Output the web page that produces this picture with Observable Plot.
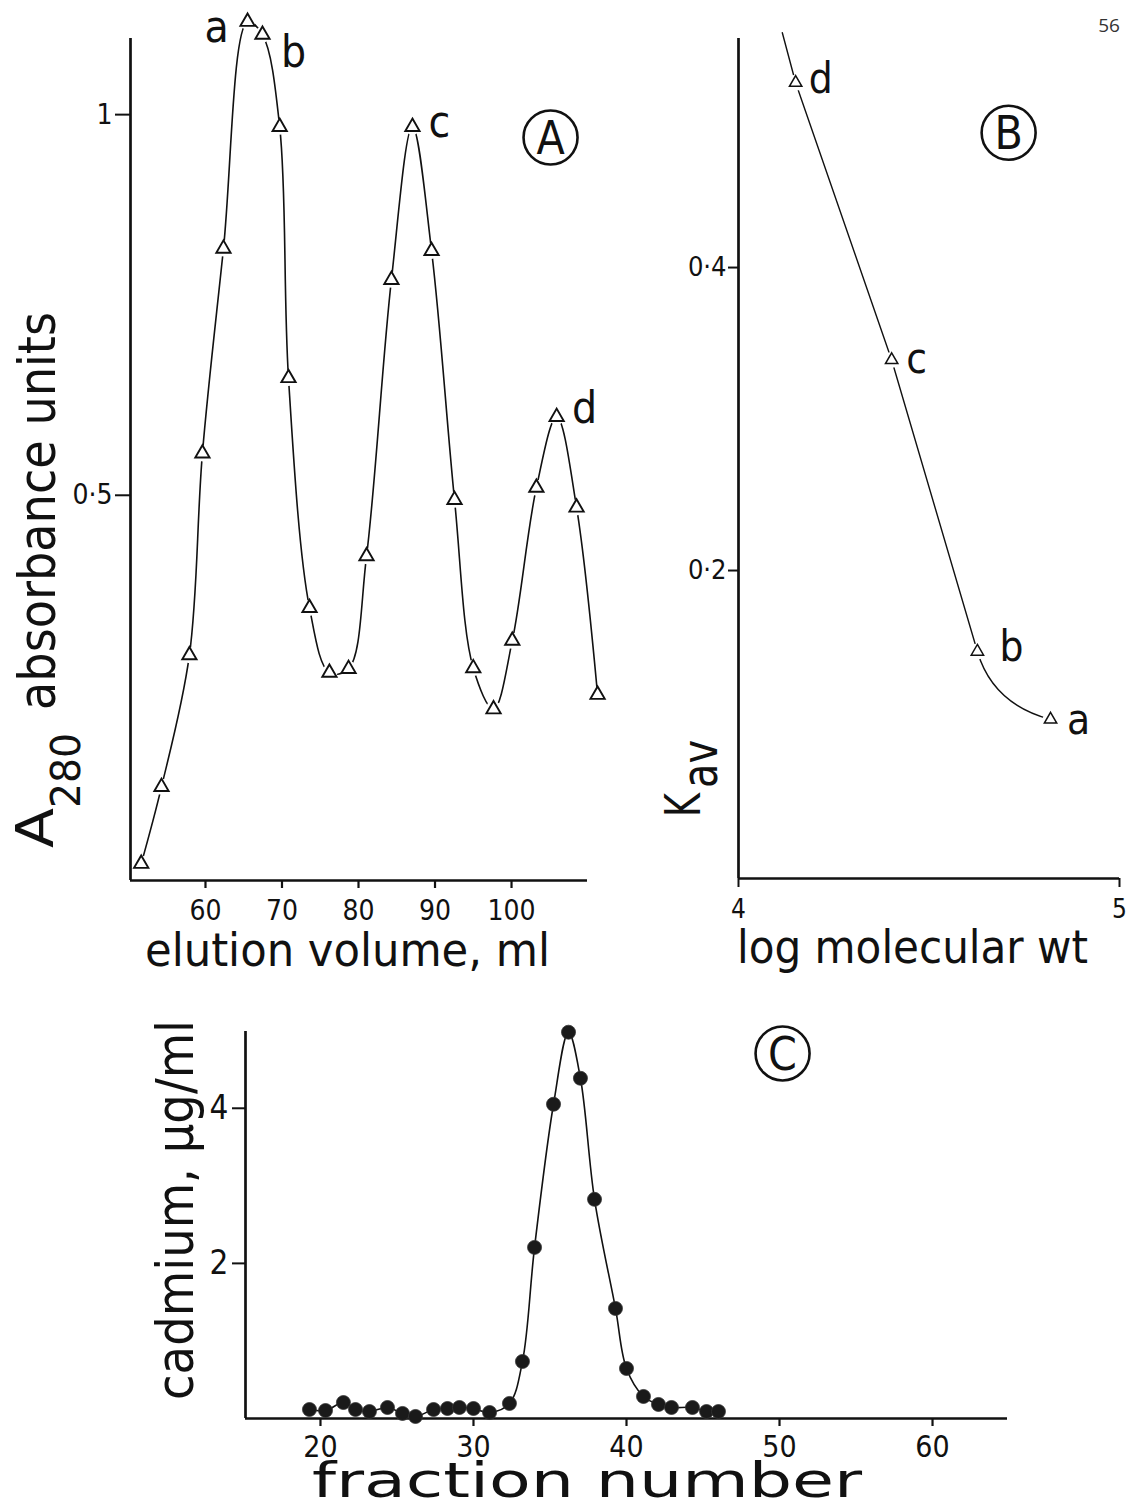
<!DOCTYPE html>
<html>
<head>
<meta charset="utf-8">
<script src="https://cdn.jsdelivr.net/npm/d3@7"></script>
<script src="https://cdn.jsdelivr.net/npm/@observablehq/plot@0.6"></script>
<style>
  body { margin: 0; background: #fff; }
  #page { position: relative; width: 1130px; height: 1507px; overflow: hidden; background: #fff; }
  #page svg { position: absolute; overflow: visible; }
</style>
</head>
<body>
<div id="page"></div>
<script>
// ---------------- Panel A : gel-filtration elution profile ----------------
const elutionVolume = [51.6, 54.25, 57.9, 59.6, 62.35, 65.5, 67.45, 69.7, 70.85, 73.6, 76.2, 78.7,
                       81.05, 84.3, 87.05, 89.55, 92.55, 95.0, 97.65, 100.1, 103.25, 105.9, 108.5, 111.25];
const absorbance280 = [0.016, 0.117, 0.290, 0.555, 0.824, 1.122, 1.105, 0.984, 0.654, 0.352, 0.267, 0.272,
                       0.420, 0.783, 0.984, 0.821, 0.494, 0.273, 0.219, 0.309, 0.510, 0.603, 0.484, 0.238];
const peakLetters = ["a", "b", "c", "d"];
const peakIndex = [5, 6, 14, 21];
const aXDomain = [50.2, 109.93];
const aYDomain = [-0.006, 1.1];
const aXTicks = [60, 70, 80, 90, 100];
const aYTicks = [0.5, 1];

// ---------------- Panel B : calibration, Kav vs log MW ----------------
const standardLetters = ["d", "c", "b", "a"];
const logMolWt = [4.150, 4.402, 4.627, 4.819];
const kav = [0.522, 0.339, 0.1465, 0.1017];
const curveLogMolWt = [4.115, 4.150, 4.402, 4.627, 4.819];
const curveKav = [0.555, 0.522, 0.339, 0.1465, 0.1017];
const bXDomain = [4, 5];
const bYDomain = [-0.0033, 0.5512];
const bXTicks = [4, 5];
const bYTicks = [0.2, 0.4];

// ---------------- Panel C : cadmium profile ----------------
const fractionNumber = [19.28, 20.33, 21.5, 22.29, 23.2, 24.38, 25.36, 26.21, 27.39, 28.3, 29.08, 30.0, 31.05,
                        32.35, 33.2, 33.99, 35.23, 36.21, 36.99, 37.91, 39.28, 40.0, 41.11, 42.09, 42.94,
                        44.31, 45.23, 46.01];
const cadmium = [0.116, 0.103, 0.206, 0.116, 0.09, 0.142, 0.065, 0.026, 0.116, 0.129, 0.142, 0.129, 0.077,
                 0.194, 0.735, 2.206, 4.052, 4.981, 4.387, 2.826, 1.419, 0.645, 0.284, 0.181, 0.142,
                 0.142, 0.09, 0.09];
const cXDomain = [15.1, 64.9];
const cYDomain = [0, 4.99];
const cXTicks = [20, 30, 40, 50, 60];
const cYTicks = [2, 4];

// panel identification letters (data coordinates of each panel)
const panelLetters = ["A", "B", "C"];
const panelLetterX = [105.1, 4.709, 50.2];
const panelLetterY = [0.970, 0.489, 4.707];

// ---------------- build tables ----------------
const dataA = elutionVolume.map((v, i) => ({v, a: absorbance280[i]}));
const labelsA = peakLetters.map((t, k) => ({t, v: elutionVolume[peakIndex[k]], a: absorbance280[peakIndex[k]]}));
const dataB = logMolWt.map((m, i) => ({m, k: kav[i], t: standardLetters[i]}));
const curveB = curveLogMolWt.map((m, i) => ({m, k: curveKav[i]}));
const dataC = fractionNumber.map((f, i) => ({f, c: cadmium[i]}));

const FONT = "'DejaVu Sans Condensed', 'DejaVu Sans', sans-serif";
const INK = "#111";
const dot = s => String(s).replace(".", "·");
const page = document.getElementById("page");

// straight segments, with the last segment bending smoothly into the final point
function curveStraightThenBend(context) {
  let pts = [];
  return {
    areaStart() {}, areaEnd() {},
    lineStart() { pts = []; },
    point(x, y) { pts.push([+x, +y]); },
    lineEnd() {
      const n = pts.length;
      if (!n) return;
      context.moveTo(pts[0][0], pts[0][1]);
      for (let i = 1; i < n - 1; i++) context.lineTo(pts[i][0], pts[i][1]);
      if (n >= 3) {
        const p0 = pts[n - 3], p1 = pts[n - 2], p2 = pts[n - 1];
        const dx = p1[0] - p0[0], dy = p1[1] - p0[1], L = Math.hypot(dx, dy) || 1;
        const d = 0.55 * Math.hypot(p2[0] - p1[0], p2[1] - p1[1]);
        context.quadraticCurveTo(p1[0] + dx / L * d, p1[1] + dy / L * d, p2[0], p2[1]);
      } else if (n === 2) context.lineTo(pts[1][0], pts[1][1]);
    }
  };
}

function addText(svg, {x, y, text, size, length, rotate = false, anchor = "start", adjust = "spacingAndGlyphs"}) {
  const t = d3.select(svg).append("text")
    .attr("font-size", size)
    .attr("fill", INK)
    .attr("text-anchor", anchor)
    .text(text);
  if (rotate) t.attr("transform", `translate(${x},${y}) rotate(-90)`);
  else t.attr("x", x).attr("y", y);
  if (length) t.attr("textLength", length).attr("lengthAdjust", adjust);
  return t;
}

// ---------------- Plot A ----------------
const offsA = [[-31, 6], [31, 18], [27, -4], [28, -8]];
const plotA = Plot.plot({
  width: 640, height: 1000,
  marginLeft: 130, marginRight: 53, marginTop: 38, marginBottom: 120,
  x: {domain: aXDomain},
  y: {domain: aYDomain},
  style: {fontFamily: FONT, fontSize: "28px", color: INK, background: "transparent", overflow: "visible"},
  marks: [
    Plot.ruleX([aXDomain[0]], {stroke: INK, strokeWidth: 2.7}),
    Plot.ruleY([aYDomain[0]], {stroke: INK, strokeWidth: 2.7}),
    Plot.axisX({ticks: aXTicks, tickSize: 8, tickPadding: 12, fontSize: 28, strokeWidth: 2.2, label: null, tickFormat: d => d}),
    Plot.axisY({ticks: aYTicks, tickSize: 15, tickPadding: 3, fontSize: 28, strokeWidth: 2, label: null, tickFormat: dot}),
    Plot.line(dataA, {x: "v", y: "a", curve: "catmull-rom", stroke: INK, strokeWidth: 1.6}),
    Plot.dot(dataA, {x: "v", y: "a", r: 8, fill: "white", stroke: null}),
    Plot.dot(dataA, {x: "v", y: "a", symbol: "triangle", r: 5.3, fill: "white", stroke: INK, strokeWidth: 1.9}),
    ...labelsA.map((d, k) => Plot.text([d], {x: "v", y: "a", text: "t", dx: offsA[k][0], dy: offsA[k][1], fontSize: 44, fill: INK})),
    Plot.dot([0], {x: () => panelLetterX[0], y: () => panelLetterY[0], r: 27, stroke: INK, strokeWidth: 2.6, fill: "none"}),
    Plot.text([0], {x: () => panelLetterX[0], y: () => panelLetterY[0], text: () => panelLetters[0], fontSize: 46, dy: 2, fill: INK})
  ]
});
plotA.style.left = "0px"; plotA.style.top = "0px";
page.appendChild(plotA);
addText(plotA, {x: 145, y: 966, text: "elution volume, ml", size: 46, length: 405});
addText(plotA, {x: 53, y: 848, text: "A", size: 52, length: 40, rotate: true});
addText(plotA, {x: 80, y: 808, text: "280", size: 41, length: 75, rotate: true});
addText(plotA, {x: 55, y: 710, text: "absorbance units", size: 52, length: 398, rotate: true});

// ---------------- Plot B ----------------
const offsB = [[25, -3], [25, 0], [34, -4], [28, 1]];
const plotB = Plot.plot({
  width: 490, height: 1000,
  marginLeft: 98, marginRight: 11, marginTop: 38, marginBottom: 122,
  x: {domain: bXDomain},
  y: {domain: bYDomain},
  style: {fontFamily: FONT, fontSize: "27px", color: INK, background: "transparent", overflow: "visible"},
  marks: [
    Plot.ruleX([bXDomain[0]], {stroke: INK, strokeWidth: 2.7}),
    Plot.ruleY([bYDomain[0]], {stroke: INK, strokeWidth: 2.7}),
    Plot.axisX({ticks: bXTicks, tickSize: 9, tickPadding: 12, fontSize: 26, strokeWidth: 2, label: null, tickFormat: d => d}),
    Plot.axisY({ticks: bYTicks, tickSize: 10, tickPadding: 2, fontSize: 27, strokeWidth: 2, label: null, tickFormat: dot}),
    Plot.line(curveB, {x: "m", y: "k", curve: curveStraightThenBend, stroke: INK, strokeWidth: 1.4}),
    Plot.dot(dataB, {x: "m", y: "k", r: 8, fill: "white", stroke: null}),
    Plot.dot(dataB, {x: "m", y: "k", symbol: "triangle", r: 4.6, fill: "white", stroke: INK, strokeWidth: 1.5}),
    ...dataB.map((d, k) => Plot.text([d], {x: "m", y: "k", text: "t", dx: offsB[k][0], dy: offsB[k][1], fontSize: 42, fill: INK})),
    Plot.dot([0], {x: () => panelLetterX[1], y: () => panelLetterY[1], r: 27, stroke: INK, strokeWidth: 2.6, fill: "none"}),
    Plot.text([0], {x: () => panelLetterX[1], y: () => panelLetterY[1], text: () => panelLetters[1], fontSize: 46, dy: 2, fill: INK})
  ]
});
plotB.style.left = "640px"; plotB.style.top = "0px";
page.appendChild(plotB);
addText(plotB, {x: 97, y: 963, text: "log molecular wt", size: 46, length: 351});
addText(plotB, {x: 60, y: 817, text: "K", size: 50, length: 24, rotate: true});
addText(plotB, {x: 77, y: 788, text: "av", size: 50, length: 48, rotate: true});
d3.select(plotB).append("text")
  .attr("x", 469).attr("y", 32).attr("text-anchor", "middle")
  .attr("font-family", "'Open Sans', sans-serif").attr("font-size", 19).attr("fill", "#333")
  .text("56");

// ---------------- Plot C ----------------
const plotC = Plot.plot({
  width: 1130, height: 507,
  marginLeft: 245, marginRight: 123, marginTop: 31, marginBottom: 89,
  x: {domain: cXDomain},
  y: {domain: cYDomain},
  style: {fontFamily: FONT, fontSize: "30px", color: INK, background: "transparent", overflow: "visible"},
  marks: [
    Plot.ruleX([cXDomain[0]], {stroke: INK, strokeWidth: 2.7}),
    Plot.ruleY([cYDomain[0]], {stroke: INK, strokeWidth: 2.7}),
    Plot.axisX({ticks: cXTicks, tickSize: 8, tickPadding: 9, fontSize: 30, strokeWidth: 2.2, label: null, tickFormat: d => d}),
    Plot.axisY({ticks: cYTicks, tickSize: 13, tickPadding: 4, fontSize: 33, strokeWidth: 2, label: null, tickFormat: d => d}),
    Plot.line(dataC, {x: "f", y: "c", curve: "catmull-rom", stroke: INK, strokeWidth: 1.6}),
    Plot.dot(dataC, {x: "f", y: "c", r: 7, fill: "#1a1a1a", stroke: "#333", strokeWidth: 0.8}),
    Plot.dot([0], {x: () => panelLetterX[2], y: () => panelLetterY[2], r: 27, stroke: INK, strokeWidth: 2.6, fill: "none"}),
    Plot.text([0], {x: () => panelLetterX[2], y: () => panelLetterY[2], text: () => panelLetters[2], fontSize: 46, dy: 2, fill: INK})
  ]
});
plotC.style.left = "0px"; plotC.style.top = "1000px";
page.appendChild(plotC);
addText(plotC, {x: 312, y: 497, text: "fraction number", size: 48, length: 550});
addText(plotC, {x: 193, y: 400, text: "cadmium, µg/ml", size: 52, length: 380, rotate: true});
</script>
</body>
</html>
